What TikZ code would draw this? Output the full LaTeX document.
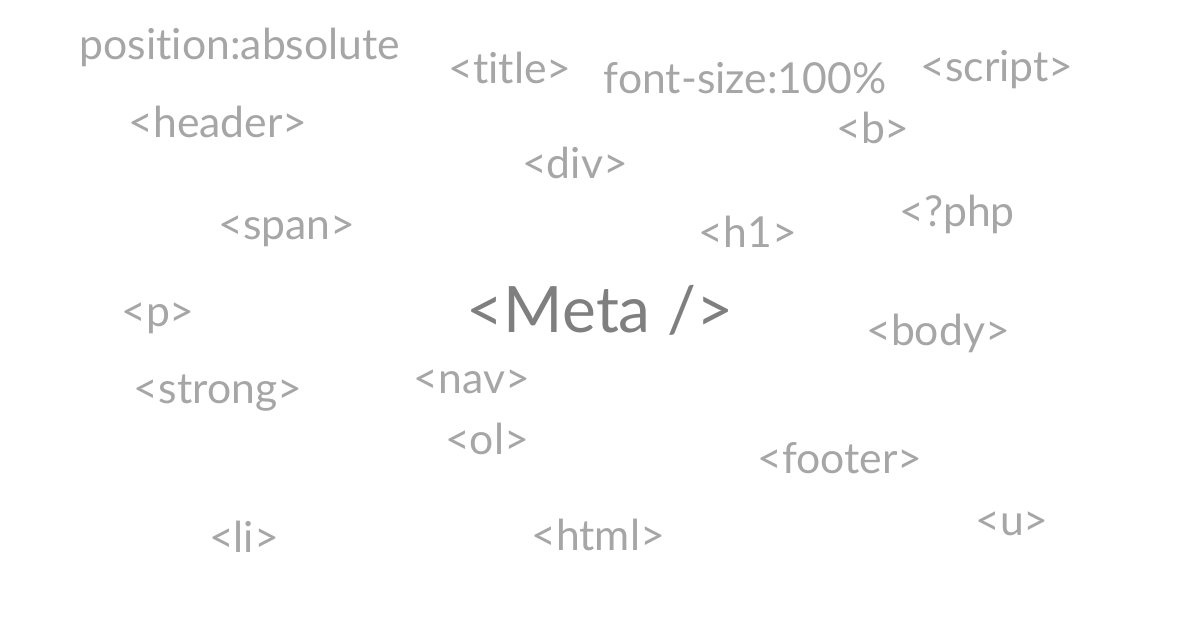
\documentclass[tikz,border=0pt]{standalone}
\usepackage{fontspec}
\setmainfont[Ligatures={NoCommon}]{Lato}
\definecolor{lg}{HTML}{A6A6A6}
\definecolor{dg}{HTML}{7F7F7F}
\begin{document}
\begin{tikzpicture}[x=0.75pt,y=-0.75pt,
  w/.style={text=lg,font=\fontsize{32}{36}\selectfont,inner sep=0pt},
  big/.style={text=dg,font=\fontsize{48}{54}\selectfont,inner sep=0pt}]
\useasboundingbox[fill=white] (0,0) rectangle (1200,627);
\node[w] (n1) at (240,47) {position:absolute};
\node[w] (n2) at (510,68) {<title>};
\node[w] (n3) at (745,78) {font-size:100\%};
\node[w] (n4) at (997,70) {<script>};
\node[w] (n5) at (218,122) {<header>};
\node[w] (n6) at (873,128) {<b>};
\node[w] (n7) at (575,163) {<div>};
\node[w] (n8) at (957,214) {<?php};
\node[w] (n9) at (287,231) {<span>};
\node[w] (n10) at (748,232) {<h1>};
\node[big] (m) at (600,310) {<Meta />};
\node[w] (n11) at (158,318) {<p>};
\node[w] (n12) at (938,333) {<body>};
\node[w] (n13) at (218,393) {<strong>};
\node[w] (n14) at (472,382) {<nav>};
\node[w] (n15) at (487,439) {<ol>};
\node[w] (n16) at (840,458) {<footer>};
\node[w] (n17) at (244,537) {<li>};
\node[w] (n18) at (598,535) {<html>};
\node[w] (n19) at (1012,524) {<u>};
\end{tikzpicture}
\end{document}
